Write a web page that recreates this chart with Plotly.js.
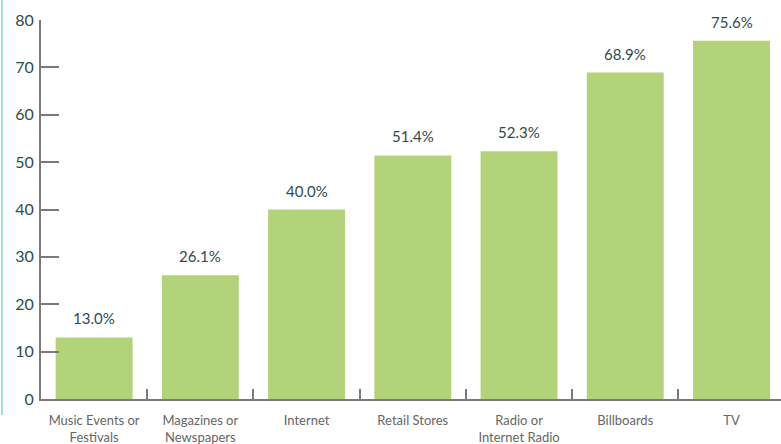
<!DOCTYPE html>
<html>
<head>
<meta charset="utf-8">
<script src="https://cdn.plot.ly/plotly-3.0.1.min.js"></script>
<style>html,body{margin:0;padding:0;background:#fff;}#chart{width:781px;height:444px;}</style>
</head>
<body>
<div id="chart"></div>
<script>
const categories = ["Music Events or<br>Festivals", "Magazines or<br>Newspapers", "Internet", "Retail Stores", "Radio or<br>Internet Radio", "Billboards", "TV"];
const values = [13.0, 26.1, 40.0, 51.4, 52.3, 68.9, 75.6];
const valueLabels = ["13.0%", "26.1%", "40.0%", "51.4%", "52.3%", "68.9%", "75.6%"];
const yTicks = [0, 10, 20, 30, 40, 50, 60, 70, 80];

const trace = {
  type: "bar",
  x: categories,
  y: values,
  width: 0.724,
  marker: {color: "#b3d37b"},
  hoverinfo: "skip"
};

const annotations = categories.map((c, i) => ({
  x: c, y: values[i], text: valueLabels[i],
  xref: "x", yref: "y", showarrow: false,
  yanchor: "bottom", yshift: 8,
  font: {family: "Lato, sans-serif", size: 15, color: "#2e4b4d"}
}));

const layout = {
  width: 781, height: 444,
  margin: {l: 41, r: 0, t: 20, b: 45},
  paper_bgcolor: "#fff", plot_bgcolor: "#fff",
  showlegend: false,
  font: {family: "Lato, sans-serif"},
  xaxis: {
    type: "category",
    range: [-0.5, 6.466],
    showline: true, linecolor: "#7a7a7a", linewidth: 2,
    ticks: "inside", tickson: "boundaries", ticklen: 10, tickwidth: 2, tickcolor: "#7a7a7a",
    showgrid: false, zeroline: false,
    tickfont: {family: "Lato, sans-serif", size: 13, color: "#666"},
    ticklabelstandoff: 8,
    fixedrange: true
  },
  yaxis: {
    range: [0, 80],
    tickvals: yTicks, ticktext: yTicks.map(String),
    showline: true, linecolor: "#7a7a7a", linewidth: 2,
    ticks: "inside", ticklen: 18, tickwidth: 2, tickcolor: "#7a7a7a",
    showgrid: false, zeroline: false,
    tickfont: {family: "Lato, sans-serif", size: 16, color: "#2e4b4d"},
    ticklabelstandoff: 2,
    fixedrange: true
  },
  annotations: annotations,
  shapes: [{
    type: "line", xref: "paper", yref: "paper",
    x0: -39/740, x1: -39/740, y0: -16/379, y1: 399/379,
    line: {color: "#a8dde6", width: 2}
  }]
};

Plotly.newPlot("chart", [trace], layout, {displayModeBar: false, staticPlot: true});
</script>
</body>
</html>
